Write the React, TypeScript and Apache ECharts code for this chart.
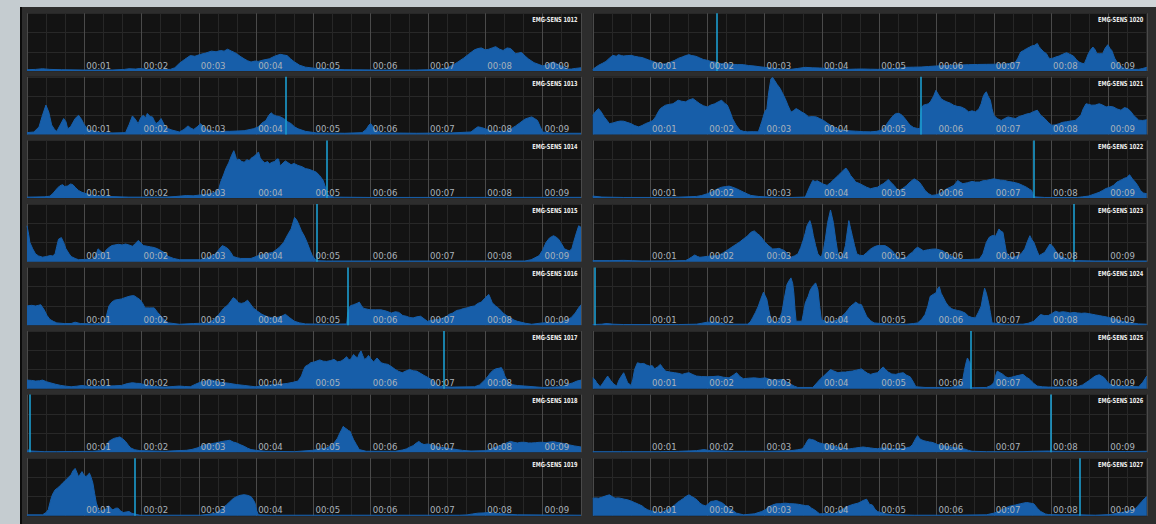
import { useEffect, useRef } from "react";
import * as echarts from "echarts";

// Sensor names, in panel order: left column top to bottom, then right column.
const SENSOR_IDS = [
  "EMG-SENS 1012", "EMG-SENS 1013", "EMG-SENS 1014", "EMG-SENS 1015",
  "EMG-SENS 1016", "EMG-SENS 1017", "EMG-SENS 1018", "EMG-SENS 1019",
  "EMG-SENS 1020", "EMG-SENS 1021", "EMG-SENS 1022", "EMG-SENS 1023",
  "EMG-SENS 1024", "EMG-SENS 1025", "EMG-SENS 1026", "EMG-SENS 1027",
];

const TIME_LABELS = ["00:01", "00:02", "00:03", "00:04", "00:05", "00:06", "00:07", "00:08", "00:09"];

// Envelope samples: [time in seconds, amplitude]
const S1012 = [[0,2],[0.15,2.5],[0.27,3.5],[0.4,2.5],[0.6,2],[1.0,1.5],[1.5,1.6],[1.7,2.5],[1.78,3.5],[1.9,3],[1.97,4],[2.1,2.5],[2.3,2],[2.5,2.5],[2.58,5],[2.66,12],[2.75,18],[2.85,24],[2.93,23],[3.03,26],[3.12,28],[3.22,31],[3.3,30],[3.38,32],[3.44,31],[3.5,34],[3.57,31],[3.62,29],[3.66,27],[3.72,23],[3.79,19],[3.85,16],[3.91,14],[3.98,15.5],[4.04,15],[4.12,17],[4.23,19],[4.32,23],[4.42,26],[4.48,25],[4.54,24],[4.6,19],[4.67,14],[4.76,9],[4.86,6],[5.05,4],[5.3,3],[5.55,2],[6.2,1.5],[6.8,1.5],[7.0,2],[7.2,3],[7.31,4],[7.43,9],[7.52,14],[7.62,20],[7.72,27],[7.81,33],[7.87,35],[7.93,36],[8.0,33],[8.06,34],[8.12,36],[8.18,38],[8.25,34],[8.31,32],[8.38,36],[8.44,35],[8.5,30],[8.53,27],[8.58,28],[8.63,29],[8.7,23],[8.75,19],[8.85,13],[8.94,10],[9.0,8],[9.06,9],[9.12,12],[9.19,14],[9.25,11],[9.32,8],[9.4,5],[9.44,3],[9.5,3],[9.57,4],[9.67,5]];
const S1013 = [[0,3],[0.12,4],[0.21,12],[0.27,30],[0.33,46],[0.38,35],[0.43,15],[0.48,8],[0.52,5],[0.58,15],[0.64,25],[0.68,20],[0.71,9],[0.76,12],[0.84,25],[0.9,30],[0.95,24],[0.99,17],[1.04,10],[1.09,7],[1.28,3],[1.5,2.5],[1.72,3],[1.78,15],[1.84,29],[1.89,24],[1.94,17],[1.99,27],[2.03,30],[2.07,26],[2.1,33],[2.15,28],[2.19,27.5],[2.22,22],[2.25,17],[2.3,20],[2.34,25],[2.38,18],[2.41,12],[2.47,9],[2.53,7],[2.66,4],[2.74,8],[2.81,13.5],[2.86,10],[2.91,8],[2.97,12],[3.03,17],[3.08,12],[3.13,8],[3.29,5],[3.54,5],[3.79,6],[3.95,9],[4.04,12],[4.1,18],[4.17,22],[4.22,30],[4.26,34],[4.3,31],[4.35,29],[4.41,28],[4.48,25],[4.55,20],[4.61,17],[4.67,12],[4.73,9],[4.86,5],[5.05,2.6],[5.55,2],[5.85,3],[5.92,8],[5.97,15],[6.0,17],[6.04,12],[6.08,7],[6.18,2.6],[6.8,2],[7.4,2.5],[7.75,4],[7.82,9],[7.87,12],[7.93,11],[8.0,9],[8.12,5],[8.37,5],[8.45,9],[8.53,13.5],[8.6,18],[8.69,24],[8.75,26],[8.81,27.5],[8.86,25],[8.91,22],[8.96,12],[9.0,4],[9.19,2],[9.67,2]];
const S1014 = [[0,1.5],[0.3,2],[0.4,3],[0.46,8],[0.52,14.5],[0.57,19],[0.62,21],[0.66,18],[0.71,19],[0.76,22],[0.8,21],[0.85,16],[0.9,12],[0.96,9],[1.03,7],[1.15,4],[1.4,2.6],[1.78,1.5],[2.41,1.5],[2.6,2.5],[2.78,4],[2.9,3.5],[3.03,5],[3.15,6],[3.29,9],[3.35,15],[3.38,25],[3.43,36],[3.47,46],[3.52,55],[3.57,66.5],[3.61,74],[3.64,66],[3.66,59],[3.7,61],[3.75,57],[3.79,56],[3.84,60],[3.88,58],[3.91,62],[3.96,65],[4.0,68],[4.04,72],[4.07,63],[4.1,59],[4.15,55],[4.2,57],[4.23,53.5],[4.28,56],[4.32,57],[4.36,61],[4.39,61],[4.42,50],[4.47,55],[4.51,58],[4.56,55],[4.61,52],[4.66,54],[4.73,51],[4.8,49],[4.86,46],[4.92,45],[4.98,43],[5.05,40.5],[5.11,35],[5.17,27.5],[5.22,14],[5.26,4],[5.36,1.5],[6,1],[9.67,1.2]];
const S1015 = [[0,56],[0.03,42],[0.05,30],[0.1,20],[0.15,12],[0.2,9],[0.27,7],[0.34,8],[0.4,9.4],[0.45,9],[0.49,12],[0.52,24],[0.55,35],[0.6,37.5],[0.64,30],[0.68,20],[0.73,13],[0.77,8],[0.84,5],[0.9,3],[1.0,3.5],[1.15,4],[1.2,10],[1.24,20],[1.29,16],[1.34,12],[1.38,18],[1.43,22],[1.48,25],[1.53,26],[1.6,27],[1.66,26],[1.72,27.5],[1.78,26],[1.84,24],[1.89,28],[1.94,33],[1.99,29],[2.03,25],[2.1,24],[2.16,23],[2.22,22],[2.28,20],[2.34,17],[2.4,14],[2.47,8],[2.56,5],[2.66,3],[3.03,3],[3.15,6],[3.29,12],[3.35,19],[3.41,25],[3.46,23],[3.51,20],[3.56,14],[3.6,8],[3.67,6],[3.73,5],[3.91,5],[4.04,9.4],[4.16,12],[4.29,14.5],[4.4,22],[4.48,30],[4.55,42],[4.61,51],[4.67,69],[4.7,66],[4.73,61],[4.79,48],[4.84,40],[4.89,30],[4.94,18],[4.98,9.4],[5.05,1.5],[5.23,1],[8.69,1],[8.8,3],[8.94,9.4],[9.0,18],[9.06,30],[9.12,37],[9.19,40.5],[9.24,38],[9.28,35],[9.33,28],[9.38,20],[9.43,18],[9.47,17],[9.51,20],[9.54,30],[9.59,45],[9.63,56],[9.67,53.5]];
const S1016 = [[0,30],[0.08,31],[0.15,30],[0.2,31],[0.24,32],[0.3,24],[0.35,15],[0.4,9],[0.46,6],[0.52,3.6],[0.65,2.6],[0.77,2.6],[0.84,4.7],[0.93,2.6],[1.15,2],[1.34,3.6],[1.38,12],[1.43,30],[1.48,36],[1.53,39],[1.59,40],[1.65,41],[1.71,43],[1.78,45],[1.83,46],[1.87,46],[1.92,43],[1.97,40],[2.02,34],[2.06,27],[2.14,27],[2.22,27],[2.28,20],[2.34,14],[2.4,8],[2.47,3.6],[2.66,1.5],[2.91,2.6],[3.16,3.6],[3.25,8],[3.35,17],[3.43,26],[3.51,32],[3.56,38],[3.6,43],[3.65,40],[3.69,35],[3.74,34],[3.79,35],[3.85,39],[3.9,33],[3.95,27],[4.02,22],[4.1,17],[4.2,13],[4.29,11.4],[4.36,12],[4.42,13],[4.51,17],[4.58,12],[4.67,6],[4.76,3.6],[4.86,2],[5.3,1.5],[5.58,2],[5.6,19],[5.64,30],[5.7,32],[5.76,34],[5.8,36],[5.84,30],[5.88,26],[5.94,25],[5.99,24],[6.08,24],[6.18,24],[6.27,22],[6.36,19],[6.43,21],[6.49,20],[6.56,15],[6.62,14],[6.68,12],[6.74,11.4],[6.8,13],[6.87,14],[6.93,10],[6.99,6],[7.08,8],[7.18,9],[7.25,11],[7.31,13],[7.37,17],[7.43,19],[7.5,23],[7.56,24],[7.62,26],[7.68,27],[7.75,29],[7.81,30],[7.87,34],[7.93,36],[7.99,42],[8.06,48],[8.09,42],[8.12,35],[8.18,30],[8.25,25],[8.31,19],[8.37,15],[8.44,11.4],[8.5,8],[8.56,6],[8.7,3],[8.81,1.5],[9.0,3.6],[9.16,4],[9.32,4.7],[9.44,8.8],[9.5,12],[9.57,19],[9.62,26],[9.67,32]];
const S1017 = [[0,13.5],[0.08,13],[0.15,12],[0.22,12.5],[0.27,13.5],[0.34,11],[0.4,9.4],[0.5,7],[0.59,5.2],[0.68,4],[0.77,3.1],[0.87,4],[0.96,5.2],[1.05,4],[1.15,3.1],[1.28,4],[1.4,4.2],[1.52,4.5],[1.65,5.2],[1.75,8],[1.84,9.4],[1.91,8.5],[1.97,8.3],[2.07,6],[2.16,4.2],[2.3,3],[2.41,2.6],[2.55,3.5],[2.66,4.2],[2.75,3.5],[2.85,3.1],[2.94,7],[3.03,10.4],[3.12,12],[3.22,13.5],[3.28,12],[3.35,10.4],[3.45,9.4],[3.54,8.3],[3.66,6.5],[3.79,5.2],[3.9,4],[3.98,3.1],[4.1,4.5],[4.29,6.2],[4.42,7],[4.54,8.3],[4.64,10],[4.73,12],[4.79,20],[4.83,30],[4.86,35],[4.92,38],[4.95,40.5],[5.02,42],[5.11,45],[5.17,43],[5.23,42.6],[5.3,44],[5.36,45.8],[5.42,42],[5.48,43],[5.53,46],[5.58,50],[5.61,46],[5.64,45],[5.67,49],[5.7,53.5],[5.74,50],[5.77,48],[5.8,55],[5.83,59],[5.86,52],[5.89,45.8],[5.93,48],[5.96,52],[6.0,47],[6.05,41.6],[6.08,45],[6.11,48],[6.15,44],[6.18,40.5],[6.24,39],[6.3,38],[6.37,34],[6.43,30],[6.49,27],[6.55,25],[6.62,28],[6.68,30],[6.74,28],[6.8,27.5],[6.87,24],[6.93,20.8],[6.99,18],[7.05,14.6],[7.12,10],[7.18,4.2],[7.27,3.1],[7.43,2.6],[7.81,3.1],[7.9,6],[8.0,14.6],[8.05,20],[8.09,25],[8.14,29],[8.18,31],[8.24,32],[8.28,33],[8.31,28],[8.34,20],[8.39,12],[8.44,6.8],[8.56,5],[8.69,4.2],[9.0,2],[9.16,2.5],[9.32,3.1],[9.44,6.8],[9.52,9],[9.6,12],[9.67,13.5]];
const S1018 = [[0,1.6],[0.03,4],[0.08,2],[0.3,1],[0.52,1],[0.8,1.2],[1.15,1.6],[1.28,2.5],[1.34,4.2],[1.38,10],[1.43,17],[1.48,20],[1.53,22],[1.58,23],[1.62,24],[1.67,21],[1.72,17],[1.77,11],[1.81,6.8],[1.88,4],[1.97,2.6],[2.41,1.6],[2.6,2.5],[2.78,3.1],[2.88,4.5],[2.97,6.8],[3.03,9],[3.1,12],[3.2,13],[3.29,14.6],[3.36,16],[3.41,17],[3.48,18],[3.54,18.7],[3.6,16],[3.66,14.6],[3.72,12],[3.79,9.4],[3.85,6.5],[3.91,4.2],[4.05,2.5],[4.17,1.6],[4.67,1],[4.98,3.1],[5.1,5],[5.23,6.8],[5.3,10],[5.36,14.6],[5.42,22],[5.46,30],[5.49,35],[5.52,40.5],[5.55,38],[5.58,36.4],[5.61,34],[5.64,32.8],[5.67,26],[5.7,19.8],[5.75,12],[5.8,4.2],[5.92,1.6],[6.43,1.6],[6.55,3.5],[6.62,5.2],[6.68,8],[6.74,10.4],[6.79,14],[6.84,17],[6.88,14],[6.93,12],[6.99,13],[7.05,12],[7.12,10],[7.18,8.3],[7.3,7],[7.43,5.2],[7.6,3],[7.75,2],[8.0,2.6],[8.1,5],[8.18,8.3],[8.25,10.4],[8.31,12],[8.38,15],[8.44,17],[8.5,15.6],[8.56,14.6],[8.62,15.6],[8.69,15.6],[8.75,14.6],[8.81,14.6],[8.88,15],[8.94,15.6],[9.0,15.6],[9.06,15],[9.12,16],[9.19,16.6],[9.25,15.5],[9.32,14.6],[9.38,13.5],[9.44,12],[9.55,10],[9.67,8.3]];
const S1019 = [[0,1.6],[0.27,1.6],[0.33,5],[0.37,9.4],[0.4,20],[0.43,30],[0.46,36],[0.49,40.5],[0.54,44],[0.59,48],[0.63,52],[0.68,56],[0.72,60],[0.77,64],[0.8,70],[0.84,74],[0.87,68],[0.9,61],[0.93,65],[0.96,69],[0.99,64],[1.03,61],[1.06,64],[1.09,66.6],[1.12,60],[1.15,51],[1.18,35],[1.21,20],[1.25,10],[1.28,6.8],[1.32,9],[1.37,10.4],[1.4,13],[1.43,15.6],[1.47,11],[1.5,9.4],[1.55,12],[1.59,12],[1.63,8],[1.68,5.2],[1.73,6],[1.78,6.8],[1.83,4],[1.87,3.1],[1.97,1],[3.03,1],[3.18,2.5],[3.29,4.2],[3.35,7],[3.41,12],[3.48,17],[3.54,22],[3.6,27],[3.66,30],[3.72,32],[3.79,33],[3.85,32],[3.91,30],[3.95,25],[3.98,20],[4.01,8],[4.04,1.6],[4.29,1],[7.55,1],[7.68,1.5],[7.78,3],[7.87,4.2],[7.96,4.5],[8.06,5.2],[8.18,4],[8.31,3.1],[8.56,1.6],[9.67,1]];
const S1020 = [[0,2.6],[0.1,8.8],[0.17,12],[0.23,15],[0.29,20],[0.35,24.4],[0.41,23],[0.45,25.5],[0.5,24],[0.54,23.4],[0.6,24],[0.67,24.4],[0.73,23],[0.8,21.8],[0.86,21],[0.92,19.2],[0.98,17],[1.05,15],[1.11,13],[1.18,11.4],[1.24,11],[1.3,11.4],[1.36,14],[1.43,16.6],[1.5,20],[1.56,21.8],[1.62,24],[1.68,25.5],[1.73,24],[1.78,23.4],[1.83,22],[1.87,20.3],[1.93,18],[2.0,16.6],[2.06,15],[2.13,14],[2.19,12],[2.25,11.4],[2.35,11],[2.44,10.4],[2.53,10],[2.63,9.9],[2.72,8.5],[2.82,7.8],[2.92,6.5],[3.01,5.7],[3.1,4.5],[3.2,3.6],[3.33,3],[3.46,2.6],[3.58,4],[3.71,5.7],[3.83,5],[3.96,4.7],[4.09,4],[4.22,3.6],[4.35,3],[4.47,2.6],[4.6,3],[4.72,3.1],[4.85,2.8],[4.97,2.6],[5.1,3],[5.23,3.6],[5.35,4.5],[5.48,5.7],[5.6,6],[5.73,6.2],[5.86,7],[5.99,7.8],[6.11,8.2],[6.24,8.8],[6.4,9.4],[6.56,9.9],[6.72,10.2],[6.87,10.4],[7.03,10.6],[7.19,10.9],[7.3,12],[7.38,14],[7.42,20],[7.47,29.6],[7.52,32],[7.57,34.8],[7.62,37],[7.66,39],[7.71,40],[7.76,43],[7.79,38],[7.82,34.8],[7.87,30],[7.92,27],[7.95,22],[7.98,19.2],[8.03,20],[8.08,21.8],[8.14,23.4],[8.2,26],[8.27,28.6],[8.33,26],[8.39,23.4],[8.44,18],[8.49,14],[8.54,12],[8.58,11.4],[8.62,20],[8.65,27],[8.69,33],[8.73,37.4],[8.77,33],[8.8,27],[8.85,27],[8.9,27],[8.94,35],[8.99,41],[9.03,35],[9.06,32],[9.11,20],[9.15,14],[9.22,8],[9.28,3.6],[9.41,2.6],[9.53,2.6],[9.6,4],[9.67,5.7]];
const S1021 = [[0,30],[0.05,36],[0.1,40.5],[0.15,35],[0.2,27.5],[0.25,22],[0.29,17],[0.35,18],[0.42,20],[0.48,21],[0.54,20.8],[0.6,19],[0.67,17],[0.73,14],[0.8,12],[0.86,14],[0.92,17],[0.98,19],[1.05,22],[1.1,28],[1.14,35],[1.18,40.5],[1.22,43],[1.27,45.8],[1.33,47],[1.4,48],[1.45,51],[1.49,53.6],[1.55,52],[1.62,51],[1.68,54],[1.75,56],[1.81,52],[1.87,48],[1.93,45],[2.0,43],[2.06,46],[2.13,48],[2.19,51],[2.25,53.6],[2.3,49],[2.35,45.8],[2.4,35],[2.44,25],[2.5,15],[2.57,6.8],[2.63,5],[2.7,4.2],[2.8,4.5],[2.89,4.2],[2.92,12],[2.95,20],[3.0,35],[3.04,40.5],[3.07,65],[3.11,87],[3.14,89],[3.17,85],[3.22,78],[3.27,72],[3.31,65],[3.36,56],[3.41,45],[3.46,35],[3.5,37],[3.55,40.5],[3.6,38],[3.65,35],[3.71,32],[3.77,27.5],[3.83,28],[3.9,27.5],[3.96,25],[4.03,22],[4.09,18],[4.15,14.6],[4.25,10],[4.34,6.8],[4.45,6],[4.59,5.2],[4.72,4.5],[4.85,4.2],[4.95,5],[5.04,6.8],[5.1,12],[5.16,20],[5.21,26],[5.26,31],[5.3,33],[5.35,33],[5.4,30],[5.45,25],[5.5,19],[5.54,14.6],[5.6,11],[5.67,9.4],[5.71,9.4],[5.73,40],[5.77,45.8],[5.82,47],[5.86,48],[5.9,52],[5.95,60],[5.99,69],[6.03,63],[6.08,56],[6.13,53],[6.18,51],[6.24,49],[6.3,45.8],[6.36,44],[6.43,43],[6.5,40],[6.56,35.4],[6.62,37],[6.68,35.4],[6.74,40],[6.78,48],[6.81,58],[6.84,64],[6.87,66.6],[6.9,60],[6.94,53.6],[6.97,40],[7.0,30],[7.06,25],[7.13,22],[7.19,25],[7.25,27.5],[7.32,26],[7.38,25],[7.44,28],[7.51,30],[7.57,32],[7.63,33],[7.7,36],[7.76,38],[7.82,30],[7.89,25],[7.95,19],[8.01,14.6],[8.07,15],[8.14,17],[8.2,19],[8.27,20],[8.34,21],[8.42,22],[8.47,26],[8.52,30],[8.56,40],[8.61,48],[8.66,47],[8.71,45.8],[8.77,46],[8.84,48],[8.9,46],[8.96,43],[9.02,44],[9.09,43],[9.15,40],[9.22,38],[9.28,42],[9.34,40.5],[9.4,35],[9.44,30],[9.5,25],[9.53,22.4],[9.6,22],[9.67,23]];
const S1022 = [[0,3.1],[0.16,1.6],[0.54,1],[1.18,1],[1.5,1.5],[1.81,2.6],[1.9,4],[2.0,6.8],[2.06,9],[2.13,12],[2.19,15],[2.25,17],[2.32,18],[2.38,18.7],[2.44,17],[2.51,14.6],[2.57,12],[2.63,9.4],[2.7,6.5],[2.76,4.2],[2.9,2.5],[3.08,1.6],[3.46,1],[3.71,1.6],[3.74,8],[3.77,14.6],[3.81,22],[3.84,27.5],[3.88,26],[3.92,27],[3.96,25],[4.02,22],[4.09,19.8],[4.15,24],[4.22,30],[4.28,35],[4.34,40.5],[4.38,44],[4.42,46.8],[4.46,42],[4.5,35.4],[4.55,30],[4.59,25],[4.65,23],[4.72,19.8],[4.78,17],[4.85,14.6],[4.91,16],[4.97,17],[5.02,20],[5.07,22.4],[5.12,26],[5.16,29],[5.21,24],[5.26,19.8],[5.3,15],[5.35,12],[5.41,15],[5.48,19.8],[5.55,26],[5.61,30],[5.65,28],[5.7,25],[5.75,19],[5.8,12],[5.86,7],[5.92,4.2],[5.98,5],[6.05,6.8],[6.11,10],[6.18,14.6],[6.24,17],[6.3,19.8],[6.34,24],[6.37,27.5],[6.41,25],[6.46,22.4],[6.54,24],[6.62,26],[6.68,25],[6.75,25],[6.81,27],[6.87,27.5],[6.94,29],[7.0,30],[7.06,29],[7.12,28],[7.19,27.5],[7.25,26],[7.32,25],[7.38,24],[7.44,22.4],[7.5,20],[7.57,17],[7.62,14],[7.66,12],[7.7,2],[7.89,1],[8.46,1],[8.55,2],[8.65,3.1],[8.71,5],[8.77,6.8],[8.84,9],[8.9,12],[8.96,15],[9.03,17],[9.09,20],[9.15,25],[9.22,28],[9.28,31],[9.32,32],[9.37,36.4],[9.42,30],[9.47,25],[9.51,20],[9.56,12],[9.61,8],[9.67,6.8]];
const S1023 = [[0,1.6],[0.3,1.6],[0.54,2],[0.7,1.5],[0.86,1],[1.3,1.2],[1.62,1.6],[1.67,4],[1.72,6.8],[1.78,10.4],[1.83,8],[1.87,6.8],[1.94,7.5],[2.0,8.3],[2.1,9],[2.19,9.4],[2.28,14],[2.38,19.8],[2.45,24],[2.51,27.5],[2.57,31],[2.63,35.4],[2.7,40],[2.76,45.8],[2.82,48],[2.87,44],[2.92,40.5],[2.97,35],[3.01,30],[3.07,25],[3.14,19.8],[3.2,20],[3.25,20.8],[3.3,19],[3.35,17],[3.4,12],[3.46,6.8],[3.52,9],[3.58,12],[3.63,22],[3.68,35.4],[3.71,45],[3.74,56],[3.79,64],[3.82,55],[3.85,40.5],[3.89,25],[3.93,12],[3.96,9],[3.99,6.8],[4.03,20],[4.06,35.4],[4.1,61],[4.15,80.6],[4.2,61],[4.24,35],[4.28,12],[4.31,9],[4.34,6.8],[4.38,15],[4.41,25],[4.44,45],[4.47,64],[4.5,52],[4.53,40.5],[4.57,25],[4.61,12],[4.66,10],[4.72,9.4],[4.78,14],[4.85,19.8],[4.91,23],[4.97,25],[5.03,25],[5.1,25],[5.16,22],[5.23,17],[5.29,10],[5.35,5.2],[5.42,5.5],[5.48,6.8],[5.53,12],[5.58,14.6],[5.63,20],[5.67,22.4],[5.72,20],[5.77,17],[5.82,18],[5.86,18.7],[5.92,19.5],[5.99,19.8],[6.05,18.5],[6.11,17],[6.18,12],[6.24,9.4],[6.33,6],[6.43,3.1],[6.6,3.5],[6.75,4.2],[6.81,12],[6.87,30],[6.92,38],[6.97,40.5],[7.0,41],[7.03,39.5],[7.06,45],[7.09,51],[7.12,48],[7.16,45.8],[7.19,30],[7.22,14.6],[7.27,8],[7.32,6.8],[7.38,8],[7.44,9.4],[7.49,14],[7.54,19.8],[7.59,32],[7.63,40.5],[7.66,35],[7.7,30],[7.75,18],[7.79,9.4],[7.84,12],[7.89,14.6],[7.94,22],[7.98,27.5],[8.03,24],[8.08,17],[8.14,10],[8.2,6.8],[8.3,3.5],[8.39,1.6],[8.77,1],[9.67,1]];
const S1024 = [[0,1],[0.16,1.6],[0.23,2.6],[0.3,2.2],[0.35,1.6],[0.54,1],[1.5,1],[1.81,1.6],[1.9,3],[2.0,4.7],[2.13,4.7],[2.25,3],[2.32,1.6],[2.7,1.6],[2.75,5],[2.79,11.4],[2.84,20],[2.89,29.6],[2.93,40],[2.98,51.5],[3.01,46],[3.04,40],[3.07,25],[3.11,8.8],[3.2,3.6],[3.25,8],[3.3,19.2],[3.34,40],[3.39,63.4],[3.43,70],[3.46,73.8],[3.49,65],[3.51,50.4],[3.53,25],[3.55,6.2],[3.65,6.2],[3.68,20],[3.71,34.8],[3.76,45],[3.8,55.6],[3.85,62],[3.89,66],[3.93,55.6],[3.96,30],[3.99,8.8],[4.09,4.7],[4.2,6],[4.28,8.8],[4.35,14],[4.41,19.2],[4.46,25],[4.5,29.6],[4.55,33],[4.59,36],[4.64,33],[4.69,32],[4.73,24],[4.78,14],[4.85,7],[4.91,3.6],[5.1,2],[5.48,1.6],[5.6,2.6],[5.67,3.6],[5.74,9],[5.8,16.6],[5.85,30],[5.89,45],[5.94,48],[5.99,50.4],[6.02,57],[6.05,60],[6.08,50],[6.11,45],[6.16,36],[6.21,29.6],[6.26,26],[6.3,24.4],[6.37,23],[6.43,21.8],[6.5,19],[6.56,14],[6.62,12],[6.68,11.4],[6.73,20],[6.78,29.6],[6.81,45],[6.84,57.7],[6.87,50],[6.91,34.8],[6.94,20],[6.97,3.6],[7.19,1.6],[7.51,1.6],[7.6,3],[7.7,6.2],[7.76,12],[7.82,16.6],[7.88,15],[7.95,15],[8.01,18],[8.08,21.8],[8.14,20],[8.2,21],[8.27,20.3],[8.33,19],[8.4,20],[8.46,19.2],[8.53,18.5],[8.59,19],[8.65,18.2],[8.72,17],[8.78,16],[8.84,15],[8.9,14],[8.96,13],[9.05,11],[9.15,8.8],[9.25,6],[9.34,4.7],[9.45,3],[9.53,2],[9.67,1.6]];
const S1025 = [[0,17],[0.04,14],[0.07,9.4],[0.13,3.1],[0.17,8],[0.2,12],[0.26,19.8],[0.32,12],[0.37,7],[0.42,4.2],[0.45,12],[0.48,17],[0.54,25],[0.58,16],[0.61,9.4],[0.67,5.2],[0.7,15],[0.73,30],[0.78,40.5],[0.84,39],[0.89,39.5],[0.94,37],[0.99,35.4],[1.04,36],[1.08,31],[1.13,34],[1.18,38],[1.22,33],[1.27,27.5],[1.35,26],[1.43,25],[1.5,24],[1.56,22.4],[1.62,24],[1.68,25],[1.75,22],[1.81,19.8],[1.9,19],[2.0,18.7],[2.1,19],[2.19,19.8],[2.28,18],[2.38,17],[2.45,21],[2.51,25],[2.57,19],[2.63,15.6],[2.72,16.5],[2.82,17],[2.92,16],[3.01,17],[3.08,15],[3.14,13.5],[3.24,14],[3.33,14.6],[3.4,10],[3.46,6.8],[3.52,4],[3.58,2],[3.84,2],[3.92,10],[3.98,16],[4.03,19.8],[4.09,25],[4.15,30],[4.2,28],[4.28,25],[4.35,26],[4.41,26],[4.47,27],[4.53,27.5],[4.6,29],[4.65,30],[4.69,31],[4.75,27],[4.8,24],[4.85,22.4],[4.91,24],[4.97,25],[5.02,30],[5.07,34],[5.11,30],[5.16,26],[5.22,23],[5.29,22.4],[5.35,24],[5.42,25],[5.48,21],[5.54,18.7],[5.6,10],[5.64,3.1],[5.8,2],[6.24,2],[6.35,4],[6.43,6.8],[6.46,15],[6.49,30],[6.52,42],[6.54,48],[6.57,43],[6.59,39.5],[6.61,1.6],[6.87,2],[6.95,5],[7.0,9.4],[7.03,20],[7.06,27.5],[7.11,25],[7.16,22.4],[7.2,19],[7.25,17],[7.31,18],[7.38,19.8],[7.44,21],[7.51,22.4],[7.57,18],[7.63,14.6],[7.7,8],[7.76,4.2],[7.85,3],[7.95,2.6],[8.2,2.6],[8.46,3.1],[8.55,6],[8.65,12],[8.71,16],[8.77,19.8],[8.84,21.8],[8.88,20],[8.93,17],[8.98,11],[9.03,6.8],[9.12,4.5],[9.22,4.2],[9.4,3.5],[9.53,3.1],[9.6,10],[9.67,19.8]];
const S1026 = [[0,1],[0.5,1],[1.18,1],[1.5,1.5],[1.81,2.6],[1.94,4.2],[2.06,2.6],[2.44,1.6],[3.08,1.6],[3.46,2.6],[3.58,4],[3.65,5.2],[3.68,8],[3.71,12],[3.74,17],[3.77,20.8],[3.82,20],[3.87,18.7],[3.92,16],[3.96,14.6],[4.03,13],[4.09,12],[4.15,11],[4.22,9.4],[4.28,8],[4.34,6.8],[4.4,5.5],[4.47,5.2],[4.53,6],[4.59,6.8],[4.65,7.5],[4.72,8.3],[4.78,7.5],[4.85,6.8],[4.91,6],[4.97,5.7],[5.03,6.5],[5.1,6.8],[5.16,6],[5.23,5.2],[5.32,5.7],[5.42,6.2],[5.48,7],[5.54,8.3],[5.58,12],[5.61,17],[5.64,22],[5.67,26],[5.7,22],[5.73,19.8],[5.78,18],[5.83,17],[5.88,16],[5.92,15.6],[5.97,14],[6.02,12],[6.07,11],[6.11,10.4],[6.18,9.4],[6.24,8.3],[6.3,7.5],[6.37,6.8],[6.43,6],[6.49,5.2],[6.56,3],[6.62,1.6],[6.87,1],[7.51,1],[7.7,1.6],[7.95,2],[8.08,1.6],[8.77,1],[9.3,1.2],[9.67,1.6]];
const S1027 = [[0,27.5],[0.05,28],[0.1,27.5],[0.16,29],[0.23,31.2],[0.29,32.8],[0.34,30],[0.39,27.5],[0.44,28],[0.48,27.5],[0.55,26],[0.61,25],[0.67,23],[0.73,20.8],[0.8,18],[0.86,15.6],[0.91,12],[0.96,9.4],[1.05,6.8],[1.18,5.2],[1.24,7],[1.3,9.4],[1.37,13],[1.43,17],[1.48,21],[1.53,24],[1.58,27],[1.62,30],[1.68,32.8],[1.73,30],[1.78,27.5],[1.83,24],[1.87,19.8],[1.92,17],[1.97,15.6],[2.02,19],[2.06,22.4],[2.11,23],[2.16,24],[2.21,22],[2.25,20.8],[2.32,16],[2.38,12],[2.45,8],[2.51,4.2],[2.63,1.6],[2.82,3.1],[2.95,6.8],[3.02,10],[3.08,14.6],[3.14,17],[3.2,18.7],[3.28,19],[3.36,19.8],[3.44,19],[3.52,18.7],[3.59,18],[3.65,17],[3.71,16],[3.77,15.6],[3.82,12],[3.87,9.4],[3.92,6],[3.96,3.1],[4.1,3.5],[4.22,4.2],[4.28,6.8],[4.34,9.4],[4.41,13],[4.47,15.6],[4.55,18],[4.63,19.8],[4.68,22],[4.72,24],[4.78,26],[4.83,18],[4.88,17],[4.93,10],[4.97,6.8],[5.1,3.1],[5.29,1.6],[5.61,1],[6.24,1],[6.87,1.6],[7.0,4.2],[7.1,7.5],[7.19,12],[7.28,15],[7.38,17],[7.47,19],[7.57,20.8],[7.63,20],[7.7,18.7],[7.76,12],[7.82,6.8],[7.9,3],[7.95,2],[8.14,1.6],[8.5,1.6],[8.77,1],[9.03,2],[9.22,5.2],[9.33,7],[9.41,9.4],[9.48,12],[9.53,17],[9.58,22],[9.63,27],[9.67,30]];

const SIGNALS = [S1012, S1013, S1014, S1015, S1016, S1017, S1018, S1019, S1020, S1021, S1022, S1023, S1024, S1025, S1026, S1027];

// Playback cursor time per panel (seconds); null where no cursor is shown.
const CURSORS = [null, 4.52, 5.23, 5.05, 5.6, 7.27, 0.05, 1.88, 2.17, 5.72, 7.69, 8.4, 0.04, 6.6, 8.0, 8.5];

const T_MAX = 9.67;
const Y_MAX = 90;

const WIDTH = 1156;
const HEIGHT = 524;
const COL_LEFT = [27, 592.75];
const PANEL_W = 554;
const ROW_TOP = 13.3;
const ROW_PITCH = 63.55;
const PANEL_H = 57.7;

const FILL = "#175ea9";
const CURSOR_COLOR = "#1c9dd0";
const FONT = '"Liberation Sans Narrow", "DejaVu Sans Condensed", "Roboto Condensed", sans-serif';

function timeLabel(v: number): string {
  const n = Math.round(v);
  if (Math.abs(v - n) > 1e-6) return "";
  return TIME_LABELS[n - 1] ?? "";
}

export default function App() {
  const ref = useRef<HTMLDivElement>(null);

  useEffect(() => {
    if (!ref.current) return;
    const chart = echarts.init(ref.current, undefined, { renderer: "svg" });

    const grid: any[] = [];
    const xAxis: any[] = [];
    const yAxis: any[] = [];
    const series: any[] = [];
    const graphic: any[] = [];

    SIGNALS.forEach((data, i) => {
      const col = Math.floor(i / 8);
      const row = i % 8;
      const left = COL_LEFT[col];
      const top = ROW_TOP + row * ROW_PITCH;

      grid.push({
        left, top, width: PANEL_W, height: PANEL_H,
        show: true, backgroundColor: "#131313", borderWidth: 0,
      });

      // grid lines: a brighter line each second, dimmer ones each third of a second
      xAxis.push({
        type: "value", gridIndex: i, position: "bottom", min: 0, max: T_MAX, interval: 1 / 3,
        axisLine: { show: false }, axisTick: { show: false }, axisLabel: { show: false },
        splitLine: { show: true, lineStyle: { color: ["#4a4a4a", "#272727", "#272727"], width: 1 } },
        z: 0,
      });
      // time labels, drawn over the signal
      xAxis.push({
        type: "value", gridIndex: i, position: "bottom", offset: 0, min: 0, max: T_MAX, interval: 1,
        axisLine: { show: false }, axisTick: { show: false }, splitLine: { show: false },
        axisLabel: {
          show: true, inside: true, margin: 1, align: "left", padding: [0, 0, 0, 2],
          color: "#aab2ba", fontSize: 9.5, fontFamily: FONT,
          formatter: timeLabel,
        },
        z: 5,
      });
      yAxis.push({
        type: "value", gridIndex: i, min: 0, max: Y_MAX, interval: 30,
        axisLine: { show: false }, axisTick: { show: false }, axisLabel: { show: false },
        splitLine: { show: true, lineStyle: { color: "#282828", width: 1 } },
      });

      const cursor = CURSORS[i];
      series.push({
        type: "line",
        xAxisIndex: 2 * i,
        yAxisIndex: i,
        data,
        symbol: "none",
        showSymbol: false,
        lineStyle: { color: FILL, width: 1 },
        areaStyle: { color: FILL, opacity: 1 },
        z: 2,
        markLine: cursor == null ? undefined : {
          silent: true,
          symbol: ["none", "none"],
          label: { show: false },
          lineStyle: { color: CURSOR_COLOR, width: 1.6, type: "solid", opacity: 1 },
          emphasis: { disabled: true },
          data: [{ xAxis: cursor }],
        },
      });

      // sensor name, right-aligned in the panel's top corner, slightly condensed
      graphic.push({
        type: "text",
        x: left + PANEL_W - 3.5,
        y: top + 2.5,
        scaleX: 0.8,
        z: 20,
        style: {
          text: SENSOR_IDS[i],
          fill: "#eeeeee",
          fontSize: 7,
          fontWeight: "bold",
          fontFamily: FONT,
          align: "right",
          verticalAlign: "top",
        },
      });
    });

    chart.setOption({
      animation: false,
      backgroundColor: "transparent",
      grid,
      xAxis,
      yAxis,
      series,
      graphic,
    });

    return () => chart.dispose();
  }, []);

  return (
    <div style={{ position: "fixed", left: 0, top: 0, width: WIDTH, height: HEIGHT, background: "#c5ccd0", overflow: "hidden" }}>
      <div style={{ position: "absolute", left: 800, top: 0, width: WIDTH - 800, height: 7, background: "#d0d5d8" }} />
      <div style={{ position: "absolute", left: 20, top: 7, width: WIDTH - 20, height: HEIGHT - 7, background: "#2d2d2d" }} />
      <div style={{ position: "absolute", left: 20, top: 7, width: 2, height: HEIGHT - 7, background: "#0b0b0b" }} />
      <div ref={ref} style={{ position: "absolute", left: 0, top: 0, width: WIDTH, height: HEIGHT }} />
    </div>
  );
}
